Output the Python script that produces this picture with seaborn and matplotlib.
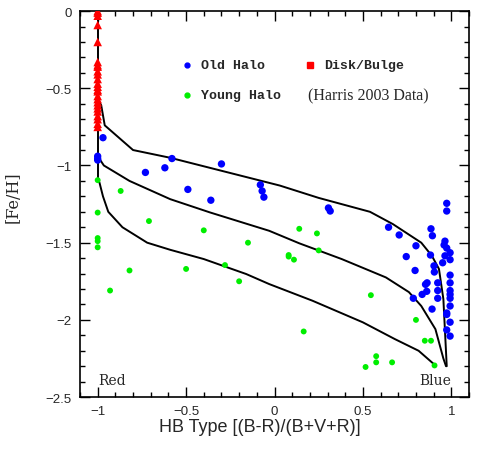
import numpy as np
import matplotlib
matplotlib.use("Agg")
import matplotlib.pyplot as plt
import seaborn as sns
import pandas as pd

# Disk/Bulge clusters (all at HB type -1)
disk_x = [-1.0, -1.0, -1.0, -1.0, -1.0, -1.0, -1.0, -1.0, -1.0, -1.0, -1.0, -1.0, -1.0,
          -1.0, -1.0, -1.0, -1.0, -1.0, -1.0, -1.0, -1.0, -1.0, -1.0, -1.0, -1.0]
disk_y = [0.0, -0.01, -0.03, -0.09, -0.20, -0.33, -0.35, -0.36, -0.39, -0.41, -0.44, -0.47,
          -0.49, -0.51, -0.52, -0.55, -0.57, -0.59, -0.61, -0.63, -0.65, -0.68, -0.70,
          -0.73, -0.75]

# Old halo clusters
old_x = [-0.97, -1.0, -1.0, -1.0, -0.73, -0.62, -0.58, -0.30, -0.49, -0.36, -0.08, -0.07,
         -0.06, 0.305, 0.315, 0.645, 0.705, 0.80, 0.745, 0.795, 0.785, 0.885, 0.893, 0.882,
         0.902, 0.904, 0.863, 0.854, 0.861, 0.835, 0.923, 0.923, 0.923, 0.891, 0.974, 0.974,
         0.964, 0.959, 0.974, 0.964, 0.993, 0.993, 0.951, 0.993, 0.993, 0.993, 0.993, 0.993,
         0.993, 0.974, 0.974, 0.993, 0.974, 0.993]
old_y = [-0.82, -0.94, -0.955, -0.965, -1.045, -1.015, -0.955, -0.99, -1.155, -1.225, -1.125,
         -1.165, -1.205, -1.275, -1.295, -1.40, -1.45, -1.52, -1.59, -1.68, -1.86, -1.41,
         -1.455, -1.58, -1.65, -1.69, -1.76, -1.77, -1.815, -1.835, -1.76, -1.81, -1.86,
         -1.93, -1.245, -1.295, -1.49, -1.515, -1.535, -1.585, -1.565, -1.61, -1.63, -1.71,
         -1.76, -1.81, -1.835, -1.86, -1.91, -1.955, -1.965, -2.015, -2.065, -2.105]

# Young halo clusters
young_x = [-1.0, -0.87, -1.0, -0.71, -1.0, -1.0, -1.0, -0.40, -0.82, -0.93, -0.50, -0.15,
           -0.28, -0.20, 0.08, 0.08, 0.11, 0.14, 0.24, 0.25, 0.545, 0.165, 0.80, 0.85,
           0.885, 0.575, 0.575, 0.665, 0.515, 0.905]
young_y = [-1.095, -1.165, -1.305, -1.36, -1.47, -1.49, -1.53, -1.42, -1.68, -1.81, -1.67,
           -1.50, -1.645, -1.75, -1.58, -1.59, -1.61, -1.41, -1.44, -1.55, -1.84, -2.075,
           -2.0, -2.135, -2.135, -2.235, -2.275, -2.275, -2.305, -2.295]

# model curves
vert_x = [-1.0, -1.0]
vert_y = [0.0, -1.09]
top_x = [-1.0, -0.98, -0.96, -0.90, -0.80, -0.59, 0.03, 0.25, 0.54, 0.67, 0.83, 0.89, 0.93,
         0.955, 0.974]
top_y = [-0.57, -0.61, -0.74, -0.80, -0.90, -0.95, -1.13, -1.21, -1.30, -1.38, -1.50,
         -1.585, -1.67, -1.865, -2.30]
mid_x = [-1.0, -0.965, -0.82, -0.59, -0.365, -0.03, 0.14, 0.38, 0.63, 0.76, 0.83, 0.91,
         0.955, 0.97]
mid_y = [-0.94, -1.0, -1.10, -1.218, -1.304, -1.423, -1.504, -1.606, -1.725, -1.82, -1.91,
         -2.06, -2.25, -2.30]
bot_x = [-1.0, -0.99, -0.97, -0.94, -0.86, -0.72, -0.59, -0.40, -0.16, -0.03, 0.215, 0.50,
         0.68, 0.815, 0.90]
bot_y = [-1.09, -1.11, -1.20, -1.30, -1.40, -1.50, -1.546, -1.606, -1.703, -1.768, -1.876,
         -2.016, -2.124, -2.20, -2.285]

sns.set_style("ticks")
plt.rcParams['font.family'] = ['Liberation Sans', 'DejaVu Sans']

fig = plt.figure(figsize=(4.95, 4.56), dpi=100)
ax = fig.add_axes([0.1616, 0.127, 0.7859, 0.8465])

for cx, cy in [(vert_x, vert_y), (top_x, top_y), (mid_x, mid_y), (bot_x, bot_y)]:
    sns.lineplot(x=cx, y=cy, sort=False, color="black", lw=1.4, ax=ax, estimator=None)

sns.scatterplot(x=young_x, y=young_y, color="#00ee00", s=18, edgecolor="none", ax=ax, zorder=3)
sns.scatterplot(x=old_x, y=old_y, color="#0000ff", s=28, edgecolor="none", ax=ax, zorder=3)
sns.scatterplot(x=disk_x, y=disk_y, color="#ff0000", marker="^", s=38, edgecolor="none",
                ax=ax, zorder=4)

ax.set_xlim(-1.1, 1.1)
ax.set_ylim(-2.5, 0)
ax.set_xticks([-1, -0.5, 0, 0.5, 1])
ax.set_xticklabels(["\u22121", "\u22120.5", "0", "0.5", "1"])
ax.set_yticks([0, -0.5, -1, -1.5, -2, -2.5])
ax.set_yticklabels(["0", "\u22120.5", "\u22121", "\u22121.5", "\u22122", "\u22122.5"])
ax.set_xticks(np.arange(-1.1, 1.11, 0.1), minor=True)
ax.set_yticks(np.arange(-2.5, 0.01, 0.1), minor=True)
ax.tick_params(which="both", direction="in", top=True, right=True, width=1, labelsize=9.5,
               color="black")
ax.tick_params(which="major", length=7, pad=6)
ax.tick_params(which="minor", length=3.5)
for sp in ax.spines.values():
    sp.set_linewidth(1.2)
    sp.set_color("black")

ax.set_xlabel("HB Type [(B-R)/(B+V+R)]", fontsize=13)
ax.xaxis.set_label_coords(0.461, -0.055)
ax.set_ylabel("[Fe/H]", fontsize=11.5, family="DejaVu Serif")
ax.yaxis.set_label_coords(-0.15, 0.521)

# legend drawn by hand
lt = ax.transAxes
ax.plot([0.276], [0.860], "o", color="#0000ff", ms=3.5, transform=lt)
ax.plot([0.276], [0.782], "o", color="#00ee00", ms=3.5, transform=lt)
ax.plot([0.591], [0.860], "s", color="#ff0000", ms=5, transform=lt)
ax.text(0.310, 0.860, "Old Halo", transform=lt, va="center", fontsize=9.5,
        family="Liberation Mono", weight="bold")
ax.text(0.310, 0.782, "Young Halo", transform=lt, va="center", fontsize=9.5,
        family="Liberation Mono", weight="bold")
ax.text(0.627, 0.860, "Disk/Bulge", transform=lt, va="center", fontsize=9.5,
        family="Liberation Mono", weight="bold")
ax.text(0.586, 0.782, "(Harris 2003 Data)", transform=lt, va="center", fontsize=11.5,
        family="Liberation Serif")

ax.text(-0.995, -2.39, "Red", ha="left", va="center", fontsize=10, family="DejaVu Serif")
ax.text(1.0, -2.39, "Blue", ha="right", va="center", fontsize=10, family="DejaVu Serif")

fig.savefig("out.png", dpi=100)
